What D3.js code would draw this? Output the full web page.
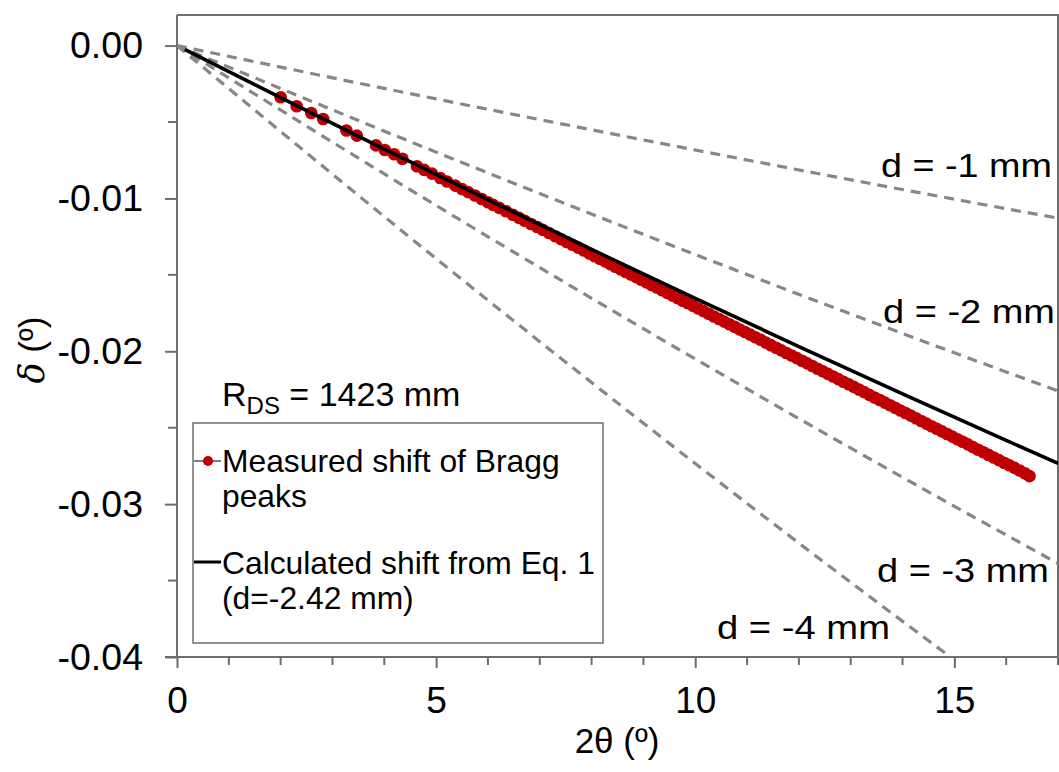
<!DOCTYPE html>
<html>
<head>
<meta charset="utf-8">
<script src="https://cdn.jsdelivr.net/npm/d3@7"></script>
<style>
  html, body { margin: 0; padding: 0; background: #fff; }
  svg text { font-family: "Liberation Sans", Arial, sans-serif; fill: #000; }
</style>
</head>
<body>
<svg id="chart" width="1059" height="772"></svg>
<script>
// ---------- data ----------
const measuredTwoTheta = [
  2.00, 2.31, 2.59, 2.82, 3.27, 3.47, 3.84, 4.01, 4.19, 4.35, 4.63, 4.77, 4.92, 5.08, 5.21, 5.37,
  5.50, 5.62, 5.75, 5.88, 6.00, 6.10, 6.22, 6.35, 6.48, 6.60, 6.71, 6.83, 6.95, 7.06, 7.18, 7.30,
  7.41, 7.52, 7.63, 7.74, 7.85, 7.96,
  8.06, 8.16, 8.26, 8.36, 8.46, 8.56, 8.66, 8.76, 8.86, 8.96,
  9.06, 9.16, 9.26, 9.36, 9.46, 9.56, 9.66, 9.76, 9.86, 9.96,
  10.06, 10.16, 10.26, 10.36, 10.46, 10.56, 10.66, 10.76, 10.86, 10.96,
  11.06, 11.16, 11.26, 11.36, 11.46, 11.56, 11.66, 11.76, 11.86, 11.96,
  12.06, 12.16, 12.26, 12.36, 12.46, 12.56, 12.66, 12.76, 12.86, 12.96,
  13.06, 13.16, 13.26, 13.36, 13.46, 13.56, 13.66, 13.76, 13.86, 13.96,
  14.06, 14.16, 14.26, 14.36, 14.46, 14.56, 14.66, 14.76, 14.86, 14.96,
  15.06, 15.16, 15.26, 15.36, 15.46, 15.56, 15.66, 15.76, 15.86, 15.96,
  16.06, 16.16, 16.26, 16.36, 16.45
];
const measuredShift = [
  -0.00338, -0.00397, -0.00441, -0.00480, -0.00556, -0.00589, -0.00653, -0.00683, -0.00711, -0.00740, -0.00789, -0.00813, -0.00838, -0.00866, -0.00889, -0.00916,
  -0.00939, -0.00959, -0.00981, -0.01004, -0.01025, -0.01042, -0.01062, -0.01084, -0.01107, -0.01127, -0.01146, -0.01167, -0.01187, -0.01206, -0.01226, -0.01247,
  -0.01266, -0.01285, -0.01303, -0.01322, -0.01341, -0.01360,
  -0.01378, -0.01395, -0.01412, -0.01430, -0.01447, -0.01464, -0.01481, -0.01498, -0.01515, -0.01532,
  -0.01549, -0.01566, -0.01583, -0.01601, -0.01618, -0.01635, -0.01652, -0.01669, -0.01686, -0.01703,
  -0.01720, -0.01737, -0.01754, -0.01772, -0.01789, -0.01806, -0.01823, -0.01840, -0.01857, -0.01874,
  -0.01891, -0.01908, -0.01925, -0.01943, -0.01960, -0.01977, -0.01994, -0.02011, -0.02028, -0.02045,
  -0.02062, -0.02079, -0.02096, -0.02114, -0.02131, -0.02148, -0.02165, -0.02182, -0.02199, -0.02216,
  -0.02233, -0.02250, -0.02267, -0.02285, -0.02302, -0.02319, -0.02336, -0.02353, -0.02370, -0.02387,
  -0.02404, -0.02421, -0.02438, -0.02456, -0.02473, -0.02490, -0.02507, -0.02524, -0.02541, -0.02558,
  -0.02575, -0.02592, -0.02609, -0.02627, -0.02644, -0.02661, -0.02678, -0.02695, -0.02712, -0.02729,
  -0.02746, -0.02763, -0.02780, -0.02798, -0.02817
];

const calcTwoTheta = [0.15, 2, 4, 6, 8, 10, 12, 14, 16, 17];
const calcShift    = [-0.00026, -0.00341, -0.00677, -0.01008, -0.01334, -0.01654, -0.01969, -0.02279, -0.02583, -0.02733];

const refTwoTheta = [0, 5, 10, 15, 17];
const refShiftD1  = [0, -0.00349, -0.00683, -0.01005, -0.01129];
const refShiftD2  = [0, -0.00697, -0.01367, -0.02010, -0.02259];
const refShiftD3  = [0, -0.01046, -0.02050, -0.03014, -0.03388];
const refShiftD4  = [0, -0.01394, -0.02734, -0.04019, -0.04518];
const refLabels   = ["d = -1 mm", "d = -2 mm", "d = -3 mm", "d = -4 mm"];

const xTickValues = [0, 5, 10, 15];
const xTickLabels = ["0", "5", "10", "15"];
const yTickValues = [0, -0.01, -0.02, -0.03, -0.04];
const yTickLabels = ["0.00", "-0.01", "-0.02", "-0.03", "-0.04"];
const xMinorTicks = [1, 2, 3, 4, 6, 7, 8, 9, 11, 12, 13, 14, 16, 17];
const yMinorTicks = [-0.005, -0.015, -0.025, -0.035];

const legendLabels = [["Measured shift of Bragg", "peaks"], ["Calculated shift from Eq. 1", "(d=-2.42 mm)"]];

// ---------- layout ----------
const svg = d3.select("#chart");
const L = 177, R = 1058, T = 15, B = 657;
const x = d3.scaleLinear().domain([0, 17]).range([L, R]);
const y = d3.scaleLinear().domain([-0.04, 0.002]).range([B, T]);
const axisColor = "#6d6d6d";
const FONT = "Liberation Sans, Arial, sans-serif";

svg.append("defs").append("clipPath").attr("id", "plotclip")
  .append("rect").attr("x", L).attr("y", T).attr("width", R - L).attr("height", B - T);

// plot frame (top/right)
svg.append("path")
  .attr("d", `M${L},${T}H${R}V${B}`)
  .attr("fill", "none").attr("stroke", axisColor).attr("stroke-width", 2);

// ---------- axes ----------
const xAxis = d3.axisBottom(x).tickValues(xTickValues)
  .tickFormat((d, i) => xTickLabels[i]).tickSize(11).tickPadding(19).tickSizeOuter(0);
const gx = svg.append("g").attr("transform", `translate(0,${B})`).call(xAxis);
gx.select(".domain").attr("d", `M${L - 12},0H${R}`);
gx.selectAll(".domain, .tick line").attr("stroke", axisColor).attr("stroke-width", 2);
gx.selectAll(".tick text").attr("font-size", 37).attr("font-family", FONT).attr("fill", "#000");

gx.selectAll(".minor").data(xMinorTicks).enter().append("line")
  .attr("class", "minor")
  .attr("x1", d => x(d)).attr("x2", d => x(d)).attr("y1", 0).attr("y2", 8)
  .attr("stroke", axisColor).attr("stroke-width", 2);

const yAxis = d3.axisLeft(y).tickValues(yTickValues)
  .tickFormat((d, i) => yTickLabels[i]).tickSize(12).tickPadding(22).tickSizeOuter(0);
const gy = svg.append("g").attr("transform", `translate(${L},0)`).call(yAxis);
gy.select(".domain").attr("d", `M0,${T}V${B}`);
gy.selectAll(".domain, .tick line").attr("stroke", axisColor).attr("stroke-width", 2);
gy.selectAll(".tick text").attr("font-size", 37.5).attr("font-family", FONT).attr("fill", "#000");

gy.selectAll(".minor").data(yMinorTicks).enter().append("line")
  .attr("class", "minor")
  .attr("x1", -9).attr("x2", 0).attr("y1", d => y(d)).attr("y2", d => y(d))
  .attr("stroke", axisColor).attr("stroke-width", 2);

// axis titles
svg.append("text").attr("x", 617).attr("y", 753).attr("text-anchor", "middle")
  .attr("font-size", 35).text("2θ (º)");
const yt = svg.append("text").attr("transform", "translate(44,350) rotate(-90)")
  .attr("text-anchor", "middle").attr("font-size", 35);
yt.append("tspan").attr("font-style", "italic").attr("font-family", "DejaVu Serif, serif").text("δ");
yt.append("tspan").text(" (º)");

// ---------- series ----------
const plot = svg.append("g").attr("clip-path", "url(#plotclip)");
const line = d3.line().x(d => x(d[0])).y(d => y(d[1])).curve(d3.curveMonotoneX);

const refSets = [refShiftD1, refShiftD2, refShiftD3, refShiftD4];
refSets.forEach(vals => {
  plot.append("path")
    .datum(refTwoTheta.map((t, i) => [t, vals[i]]))
    .attr("d", line).attr("fill", "none")
    .attr("stroke", "#878787").attr("stroke-width", 3.2).attr("stroke-dasharray", "10,7");
});

plot.selectAll("circle.meas")
  .data(measuredTwoTheta.map((t, i) => [t, measuredShift[i]]))
  .enter().append("circle").attr("class", "meas")
  .attr("cx", d => x(d[0])).attr("cy", d => y(d[1])).attr("r", 6.3)
  .attr("fill", "#c00000");

plot.append("path")
  .datum(calcTwoTheta.map((t, i) => [t, calcShift[i]]))
  .attr("d", line).attr("fill", "none").attr("stroke", "#000").attr("stroke-width", 3.6);

// reference line labels
const refLabelPos = [[1052, 177, 171], [1055, 323, 172], [1049, 582, 172], [890, 639, 173]];
refLabels.forEach((lab, i) => {
  const p = refLabelPos[i];
  svg.append("text").attr("x", p[0]).attr("y", p[1]).attr("text-anchor", "end")
    .attr("font-size", 34).attr("textLength", p[2]).attr("lengthAdjust", "spacingAndGlyphs")
    .text(lab);
});

// R_DS annotation
const rds = svg.append("text").attr("x", 222).attr("y", 406).attr("font-size", 34);
rds.append("tspan").text("R");
rds.append("tspan").attr("font-size", 24).attr("dy", 8).text("DS");
rds.append("tspan").attr("dy", -8).text(" = 1423 mm");

// ---------- legend ----------
const lg = svg.append("g");
lg.append("rect").attr("x", 193).attr("y", 423).attr("width", 410).attr("height", 220)
  .attr("fill", "#fff").attr("stroke", axisColor).attr("stroke-width", 1.5);
lg.append("line").attr("x1", 194).attr("x2", 221).attr("y1", 461).attr("y2", 461)
  .attr("stroke", "#000").attr("stroke-width", 1);
lg.append("circle").attr("cx", 208).attr("cy", 461).attr("r", 5).attr("fill", "#c00000");
lg.append("line").attr("x1", 194).attr("x2", 221).attr("y1", 562).attr("y2", 562)
  .attr("stroke", "#000").attr("stroke-width", 3);
const legY = [[472, 507], [574, 609]];
legendLabels.forEach((lines, i) => {
  lines.forEach((t, j) => {
    lg.append("text").attr("x", 222).attr("y", legY[i][j]).attr("font-size", 31.8).text(t);
  });
});
</script>
</body>
</html>
